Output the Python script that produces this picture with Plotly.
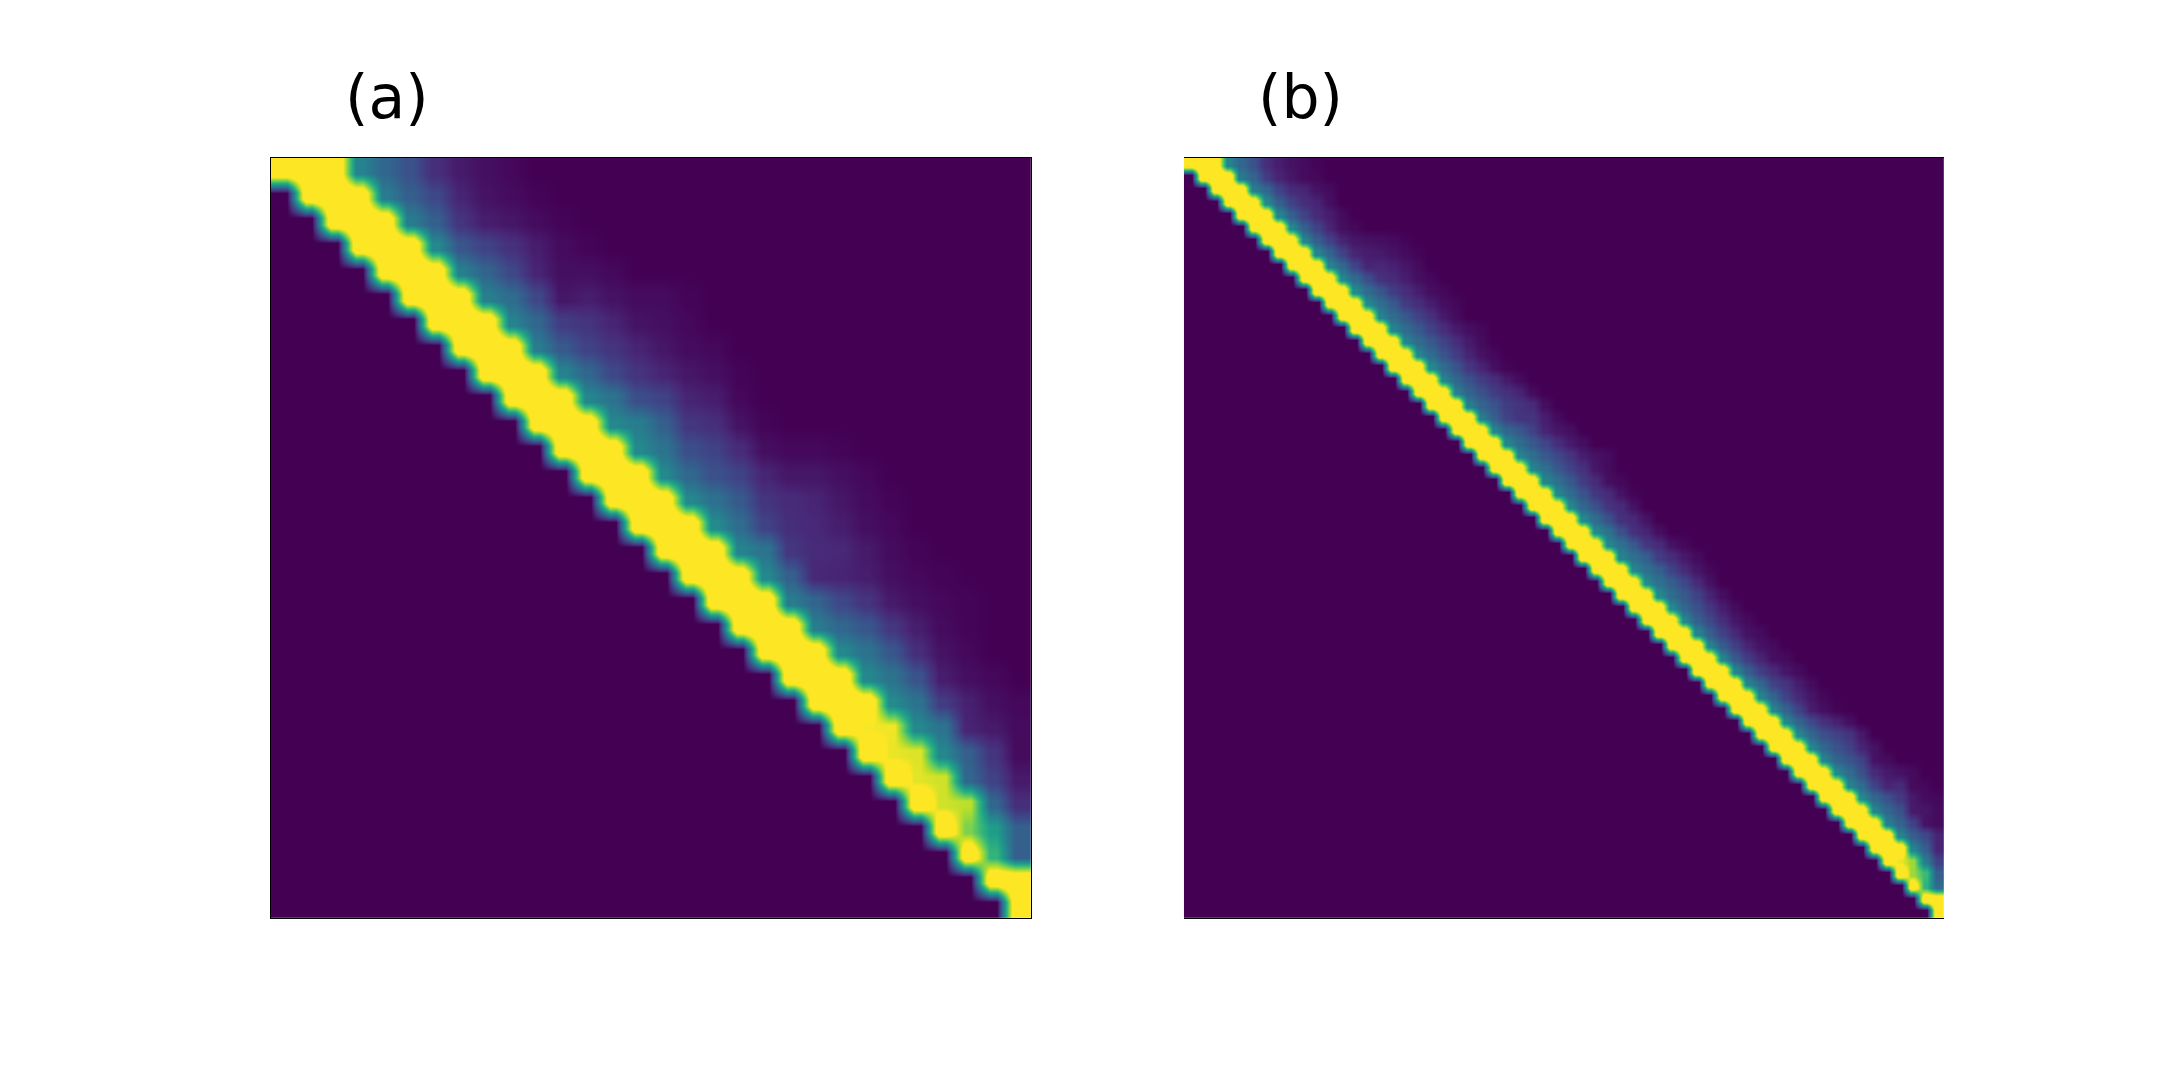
import numpy as np
import plotly.graph_objs as go

# each row lists the cell values from the diagonal going right
rows_a = [
    [1, 1, 1, .45, .33, .25, .13, .07, .04, .02],
    [1, 1, 1, .42, .30, .22, .10, .05, .03, .01],
    [1, 1, 1, .42, .30, .15, .08, .06, .03, .01],
    [1, 1, 1, .47, .27, .20, .14, .08, .03, .01],
    [1, 1, 1, .43, .32, .22, .10, .04, .04, .02],
    [1, 1, 1, .43, .35, .22, .06, .08, .05, .03, .03, .01],
    [1, 1, 1, .45, .33, .18, .15, .10, .05, .04, .02],
    [1, 1, 1, .42, .28, .20, .15, .10, .06, .03, .02],
    [1, 1, 1, .45, .33, .22, .15, .10, .06, .04, .01],
    [1, 1, 1, .46, .38, .24, .20, .10, .08, .02],
    [1, 1, 1, .47, .42, .30, .16, .13, .05, .01],
    [1, 1, 1, .47, .38, .24, .20, .12, .04, .02, .02, .01],
    [1, 1, 1, .47, .33, .25, .20, .10, .06, .06, .04, .02],
    [1, 1, 1, .47, .37, .28, .15, .12, .10, .06, .03, .01],
    [1, 1, 1, .48, .35, .20, .13, .11, .08, .04, .02],
    [1, 1, 1, .45, .38, .16, .12, .11, .07, .03, .01],
    [1, 1, 1, .47, .30, .11, .10, .08, .04, .02, .01],
    [1, 1, 1, .42, .32, .22, .15, .07, .04, .02, .01],
    [1, 1, 1, .42, .33, .27, .16, .08, .03, .01],
    [1, 1, 1, .47, .38, .27, .13, .05, .02],
    [1, 1, 1, .47, .38, .26, .08, .04, .02],
    [1, 1, 1, .48, .38, .18, .09, .04, .02],
    [1, .99, .98, .47, .38, .10, .07, .03],
    [1, .97, .95, .46, .30, .15, .03],
    [1, .96, .93, .33, .20, .07],
    [1, .93, .90, .33, .13],
    [1, .80, .55, .30],
    [1, .65, .30],
    [1, 1],
    [1],
]

rows_b = [
    [1, 1, 1, .45, .33, .25, .13, .08, .05, .03, .01],
    [1, 1, 1, .40, .32, .18, .10, .06, .03, .02],
    [1, 1, 1, .42, .33, .20, .12, .10, .05, .03],
    [1, 1, 1, .47, .30, .20, .13, .10, .04],
    [1, 1, 1, .45, .30, .20, .12, .08, .03],
    [1, 1, 1, .47, .30, .20, .10, .04, .02],
    [1, 1, 1, .45, .30, .20, .10, .06, .05, .04, .03, .01],
    [1, 1, 1, .45, .32, .20, .10, .08, .07, .05, .03, .01],
    [1, 1, 1, .45, .33, .20, .10, .11, .09, .06, .03],
    [1, 1, 1, .46, .34, .24, .14, .12, .08, .04, .02],
    [1, 1, 1, .47, .35, .27, .18, .13, .08, .04, .02],
    [1, 1, 1, .47, .36, .28, .18, .13, .08, .04, .02],
    [1, 1, 1, .45, .35, .28, .20, .14, .07, .03],
    [1, 1, 1, .45, .35, .28, .20, .13, .07, .04, .02],
    [1, 1, 1, .45, .35, .28, .20, .13, .07, .03],
    [1, 1, 1, .46, .35, .26, .18, .10, .05, .02],
    [1, 1, 1, .47, .35, .26, .16, .10, .04, .01],
    [1, 1, 1, .45, .33, .25, .18, .13, .07, .03],
    [1, 1, 1, .43, .32, .25, .18, .14, .10, .03],
    [1, 1, 1, .42, .32, .26, .18, .15, .12, .04],
    [1, 1, 1, .42, .30, .20, .15, .15, .08, .03],
    [1, 1, 1, .45, .33, .28, .20, .10, .06, .04],
    [1, 1, 1, .45, .35, .28, .21, .13, .07, .04],
    [1, 1, 1, .45, .36, .28, .22, .15, .08, .05, .03],
    [1, 1, 1, .45, .37, .28, .20, .14, .06, .03],
    [1, 1, 1, .45, .37, .28, .18, .12, .04, .02],
    [1, 1, 1, .46, .35, .26, .16, .12, .05, .01],
    [1, 1, 1, .47, .33, .25, .15, .12, .05],
    [1, 1, 1, .47, .35, .25, .14, .11, .05],
    [1, 1, 1, .47, .37, .25, .14, .10, .04],
    [1, 1, 1, .46, .37, .28, .16, .12, .05, .02],
    [1, 1, 1, .45, .37, .30, .18, .13, .07, .03],
    [1, 1, 1, .46, .37, .30, .20, .12, .06, .02],
    [1, 1, 1, .47, .37, .30, .22, .12, .05],
    [1, 1, 1, .47, .35, .28, .20, .10, .04],
    [1, 1, 1, .47, .33, .25, .16, .08, .03],
    [1, 1, 1, .46, .31, .22, .13, .06, .03],
    [1, 1, 1, .45, .30, .20, .11, .05, .03],
    [1, 1, 1, .45, .29, .19, .10, .05, .03],
    [1, 1, 1, .45, .28, .18, .10, .04, .03],
    [1, 1, 1, .45, .30, .19, .12, .06, .03],
    [1, 1, 1, .45, .33, .20, .15, .08, .03],
    [1, 1, 1, .45, .32, .20, .11, .06, .02],
    [1, 1, 1, .45, .32, .20, .08, .04, .01],
    [1, 1, 1, .46, .32, .22, .14, .09, .04],
    [1, 1, 1, .47, .33, .25, .20, .15, .07],
    [1, 1, 1, .46, .33, .26, .20, .10, .05],
    [1, 1, 1, .45, .32, .26, .20, .05, .03],
    [1, 1, 1, .47, .35, .25, .12, .07, .05, .03],
    [1, 1, 1, .45, .35, .20, .10, .12, .03, .02],
    [1, 1, 1, .47, .33, .25, .17, .07, .03, .02],
    [1, 1, 1, .45, .33, .25, .07, .06, .03],
    [1, 1, 1, .43, .32, .20, .05, .03],
    [1, 1, 1, .45, .30, .22, .10],
    [1, 1, 1, .45, .30, .10],
    [1, .97, .85, .42, .20],
    [1, .85, .68, .30],
    [1, .65, .35],
    [1, 1],
    [1],
]

titles = ["(a)", "(b)"]

# page body has an 8px margin, so the figure is smaller than the window
fig_w, fig_h = 2144, 1064
left_a, right_a = 262.8, 1023.2
left_b, right_b = 1175.8, 1936.0
top, bottom = 149.8, 910.0
flat = 0.13  # half width of the flat part of a cell, the smoothing fills the rest
saturated = 1.2


def to_matrix(rows):
    n = len(rows)
    z = np.zeros((n, n))
    for i, vals in enumerate(rows):
        z[i, i:i + len(vals)] = vals[:n - i]
    z[z >= 1] = saturated
    z = np.repeat(np.repeat(z, 2, axis=0), 2, axis=1)
    return np.pad(z, 1, mode='edge')


def centers(n):
    sub = (np.arange(n)[:, None] + [-flat, flat]).ravel()
    return np.concatenate([[-0.5], sub, [n - 0.5]])


fig = go.Figure()
fig.add_trace(go.Heatmap(z=to_matrix(rows_a), x=centers(len(rows_a)), y=centers(len(rows_a)),
                         colorscale='Viridis', zmin=0, zmax=1, zsmooth='best',
                         showscale=False, xaxis='x', yaxis='y'))
fig.add_trace(go.Heatmap(z=to_matrix(rows_b), x=centers(len(rows_b)), y=centers(len(rows_b)),
                         colorscale='Viridis', zmin=0, zmax=1, zsmooth='best',
                         showscale=False, xaxis='x2', yaxis='y2'))


def axis(dom, rng):
    return dict(domain=dom, range=rng, showticklabels=False, ticks='', showgrid=False, zeroline=False,
                showline=True, mirror=True, linecolor='black', linewidth=1)


na, nb = len(rows_a), len(rows_b)
y_dom = [1 - bottom / fig_h, 1 - top / fig_h]
fig.update_layout(
    width=fig_w, height=fig_h, margin=dict(l=0, r=0, t=0, b=0), plot_bgcolor='white', paper_bgcolor='white',
    xaxis=axis([left_a / fig_w, right_a / fig_w], [-0.5, na - 0.5]),
    yaxis=axis(y_dom, [na - 0.5, -0.5]),
    xaxis2=axis([left_b / fig_w, right_b / fig_w], [-0.5, nb - 0.5]),
    yaxis2=axis(y_dom, [nb - 0.5, -0.5]),
)
for text, x in zip(titles, [335, 1248]):
    fig.add_annotation(text=text, x=x / fig_w, y=1 - 89 / fig_h, xref='paper', yref='paper', xanchor='left',
                       yanchor='middle', showarrow=False,
                       font=dict(family='DejaVu Sans', size=60, color='black'))

fig.write_html("out.html")
